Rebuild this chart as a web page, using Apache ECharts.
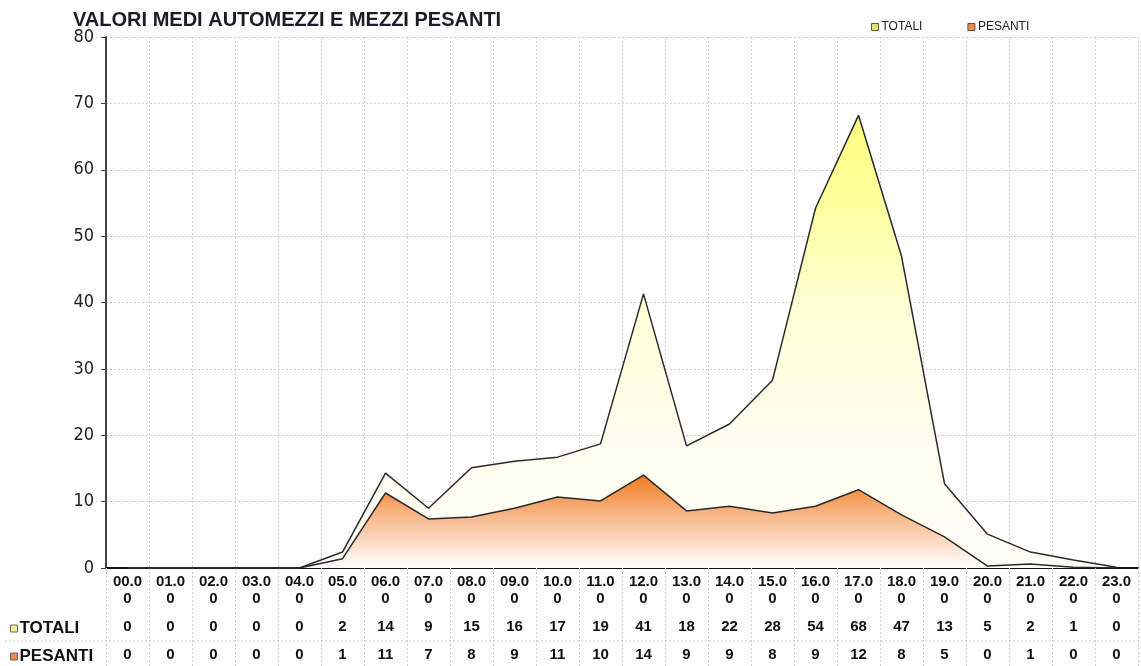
<!DOCTYPE html>
<html>
<head>
<meta charset="utf-8">
<title>Valori medi automezzi e mezzi pesanti</title>
<script src="https://cdn.jsdelivr.net/npm/echarts@6/dist/echarts.min.js"></script>
<style>
  html, body { margin: 0; padding: 0; background: #fff; }
  #chart { width: 1141px; height: 666px; }
</style>
</head>
<body>
<div id="chart"></div>
<script>
// fasce orarie (etichette asse x, vanno a capo dopo 4 caratteri)
const hours = ['00.00', '01.00', '02.00', '03.00', '04.00', '05.00', '06.00', '07.00',
  '08.00', '09.00', '10.00', '11.00', '12.00', '13.00', '14.00', '15.00',
  '16.00', '17.00', '18.00', '19.00', '20.00', '21.00', '22.00', '23.00'];

// valori (curve)
const totali = [0, 0, 0, 0, 0, 2.4, 14.3, 9.0, 15.1, 16.1, 16.7, 18.7,
  41.3, 18.4, 21.7, 28.3, 54.2, 68.2, 47.0, 12.7, 5.1, 2.4, 1.2, 0.1];
const pesanti = [0, 0, 0, 0, 0, 1.4, 11.3, 7.4, 7.7, 9.0, 10.7, 10.1,
  14.0, 8.6, 9.3, 8.3, 9.3, 11.8, 8.0, 4.7, 0.3, 0.6, 0.1, 0];

// valori della tabella sotto il grafico
const totaliTable = [0, 0, 0, 0, 0, 2, 14, 9, 15, 16, 17, 19, 41, 18, 22, 28, 54, 68, 47, 13, 5, 2, 1, 0];
const pesantiTable = [0, 0, 0, 0, 0, 1, 11, 7, 8, 9, 11, 10, 14, 9, 9, 8, 9, 12, 8, 5, 0, 1, 0, 0];

const yTicks = [0, 10, 20, 30, 40, 50, 60, 70, 80];

const font = 'Arial, "Liberation Sans", sans-serif';
const gridLine = { color: '#cfcfcf', type: [2, 2], width: 1 };

const myChart = echarts.init(document.getElementById('chart'));
myChart.setOption({
  backgroundColor: '#fff',
  animation: false,
  title: {
    text: 'VALORI MEDI AUTOMEZZI E MEZZI PESANTI',
    left: 68,
    top: 5,
    textStyle: { fontFamily: font, fontSize: 20, fontWeight: 'bold', color: '#1c1c28' },
  },
  legend: [
    {
      // legenda in alto a destra
      left: 866,
      top: 16,
      icon: 'rect',
      itemWidth: 7,
      itemHeight: 7,
      itemGap: 45,
      textStyle: { fontFamily: font, fontSize: 12, color: '#222', padding: [0, 0, 0, -2] },
      data: [
        { name: 'TOTALI', itemStyle: { color: '#e4e46a', borderColor: '#555', borderWidth: 1 } },
        { name: 'PESANTI', itemStyle: { color: '#f2884a', borderColor: '#555', borderWidth: 1 } },
      ],
    },
    {
      // intestazioni delle righe della tabella
      orient: 'vertical',
      left: 5,
      top: 615,
      height: 80,
      icon: 'rect',
      itemWidth: 7,
      itemHeight: 7,
      itemGap: 11,
      selectedMode: false,
      textStyle: { fontFamily: font, fontSize: 17, fontWeight: 'bold', color: '#111', padding: [0, 0, 0, -3] },
      data: [
        { name: 'TOTALI', itemStyle: { color: '#f0f08c', borderColor: '#666', borderWidth: 1 } },
        { name: 'PESANTI', itemStyle: { color: '#f2884a', borderColor: '#666', borderWidth: 1 } },
      ],
    },
  ],
  grid: {
    left: 106,
    right: 3,
    top: 37,
    bottom: 98,
    containLabel: false,
  },
  graphic: [
    {
      // riga tratteggiata tra TOTALI e PESANTI
      type: 'line',
      shape: { x1: 5, y1: 641, x2: 1141, y2: 641 },
      style: { stroke: '#c8c8c8', lineWidth: 1, lineDash: [2, 2] },
      silent: true,
    },
  ],
  xAxis: [
    {
      type: 'category',
      boundaryGap: true,
      data: hours,
      axisLine: { show: true, lineStyle: { color: '#111', width: 2 } },
      axisTick: { show: true, interval: 0, length: 98, lineStyle: gridLine },
      splitLine: { show: true, interval: 0, lineStyle: gridLine },
      axisLabel: {
        interval: 0,
        margin: 5,
        lineHeight: 17,
        fontFamily: font,
        fontSize: 15,
        fontWeight: 'bold',
        color: '#111',
        formatter: (v) => v.slice(0, 4) + '\n' + v.slice(4),
      },
    },
    {
      type: 'category',
      boundaryGap: true,
      position: 'bottom',
      offset: 45,
      data: hours,
      axisLine: { show: false },
      axisTick: { show: false },
      splitLine: { show: false },
      axisLabel: {
        interval: 0,
        margin: 6,
        fontFamily: font,
        fontSize: 15,
        fontWeight: 'bold',
        color: '#111',
        formatter: (v, i) => String(totaliTable[i]),
      },
    },
    {
      type: 'category',
      boundaryGap: true,
      position: 'bottom',
      offset: 73,
      data: hours,
      axisLine: { show: false },
      axisTick: { show: false },
      splitLine: { show: false },
      axisLabel: {
        interval: 0,
        margin: 6,
        fontFamily: font,
        fontSize: 15,
        fontWeight: 'bold',
        color: '#111',
        formatter: (v, i) => String(pesantiTable[i]),
      },
    },
  ],
  yAxis: {
    type: 'value',
    min: yTicks[0],
    max: yTicks[yTicks.length - 1],
    interval: 10,
    axisLine: { show: true, lineStyle: { color: '#444', width: 2 } },
    axisTick: { show: true, length: 5, lineStyle: { color: '#444', width: 1 } },
    splitLine: { show: true, lineStyle: gridLine },
    axisLabel: {
      margin: 12,
      fontFamily: '"Liberation Sans Narrow", "DejaVu Sans Condensed", Arial, sans-serif',
      fontSize: 18,
      color: '#222',
    },
  },
  series: [
    {
      name: 'TOTALI',
      type: 'line',
      xAxisIndex: 0,
      data: totali,
      showSymbol: false,
      symbol: 'none',
      itemStyle: { color: '#e4e46a' },
      lineStyle: { color: '#2a2a2a', width: 1.5 },
      areaStyle: {
        opacity: 1,
        color: new echarts.graphic.LinearGradient(0, 0, 0, 1, [
          { offset: 0, color: '#ffff7e' },
          { offset: 0.2, color: '#ffffa0' },
          { offset: 0.42, color: '#ffffd4' },
          { offset: 0.7, color: '#fdfdee' },
          { offset: 1, color: '#fefef6' },
        ]),
      },
      z: 2,
    },
    {
      name: 'PESANTI',
      type: 'line',
      xAxisIndex: 0,
      data: pesanti,
      showSymbol: false,
      symbol: 'none',
      itemStyle: { color: '#f2884a' },
      lineStyle: { color: '#2a2a2a', width: 1.5 },
      areaStyle: {
        opacity: 1,
        color: new echarts.graphic.LinearGradient(0, 0, 0, 1, [
          { offset: 0, color: '#f27a1e' },
          { offset: 0.45, color: '#f9b98c' },
          { offset: 1, color: '#ffffff' },
        ]),
      },
      z: 3,
    },
  ],
});
</script>
</body>
</html>
